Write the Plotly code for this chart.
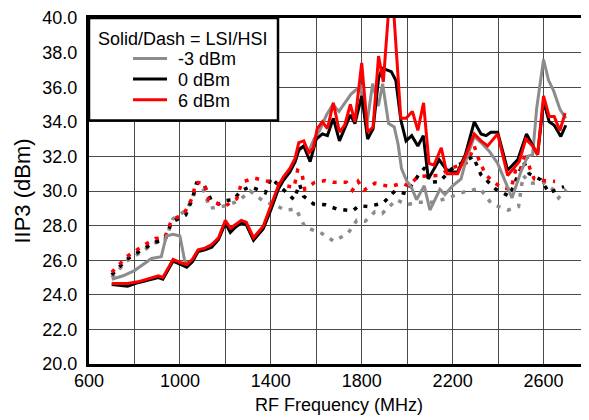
import plotly.graph_objects as go

# IIP3 vs RF frequency, solid = LSI, dotted = HSI
# -3 dBm
freq_m3_lsi = [700, 750, 800, 845, 875, 918, 940, 970, 1000, 1022, 1040, 1055, 1080, 1110, 1140, 1170,
               1200, 1222, 1244, 1270, 1292, 1324, 1366, 1400, 1433, 1455, 1484, 1507, 1523, 1545, 1567,
               1590, 1615, 1645, 1673, 1700, 1725, 1753, 1775, 1795, 1822, 1848, 1873, 1892, 1918, 1943,
               1960, 1975, 1997, 2019, 2041, 2075, 2100, 2122, 2144, 2166, 2200, 2237, 2259, 2295, 2325,
               2361, 2398, 2430, 2461, 2500, 2530, 2552, 2570, 2600, 2622, 2644, 2673, 2698]
iip3_m3_lsi = [24.9, 25.1, 25.4, 25.8, 26.1, 26.2, 27.4, 27.5, 27.4, 25.9, 25.85, 26.0, 26.55, 26.65, 26.8,
               27.25, 28.2, 27.75, 27.95, 28.2, 28.1, 27.2, 27.85, 29.0, 30.2, 30.7, 31.2, 31.7, 32.3, 32.6,
               32.3, 33.0, 33.5, 34.4, 35.0, 34.6, 35.1, 35.6, 35.85, 36.0, 33.8, 36.2, 34.9, 36.2, 33.9,
               33.7, 32.7, 31.3, 30.6, 30.2, 29.5, 30.3, 28.9, 29.5, 30.1, 29.8, 30.3, 30.7, 31.8, 33.15,
               32.8, 32.3, 31.6, 30.6, 29.6, 31.1, 32.0, 32.1, 34.8, 37.6, 36.4, 35.8, 34.7, 34.2]

# 0 dBm
freq_0_lsi = [700, 770, 815, 875, 905, 925, 970, 1005, 1030, 1055, 1080, 1110, 1140, 1170, 1200, 1222,
              1244, 1270, 1292, 1324, 1366, 1400, 1433, 1455, 1484, 1507, 1523, 1545, 1573, 1600, 1627,
              1649, 1675, 1702, 1725, 1750, 1770, 1800, 1826, 1850, 1874, 1890, 1910, 1930, 1950, 1972,
              1995, 2020, 2047, 2071, 2093, 2115, 2141, 2171, 2200, 2222, 2256, 2295, 2325, 2347, 2368,
              2398, 2442, 2486, 2525, 2574, 2600, 2625, 2647, 2676, 2698]
iip3_0_lsi = [24.6, 24.5, 24.7, 24.9, 25.0, 24.9, 25.95, 25.75, 25.6, 25.9, 26.5, 26.6, 26.75, 27.2, 28.15,
              27.6, 27.9, 28.15, 28.05, 27.15, 27.8, 28.9, 30.1, 30.6, 31.1, 31.7, 32.4, 32.6, 31.7, 33.0,
              33.3, 33.2, 34.2, 32.9, 33.6, 34.4, 33.9, 35.5, 33.0, 33.6, 36.5, 37.1, 37.0, 36.9, 36.4,
              34.1, 32.9, 33.2, 32.6, 33.2, 30.7, 31.2, 31.8, 31.25, 31.1, 31.1, 32.1, 34.0, 33.3, 33.2,
              33.4, 33.4, 31.2, 31.8, 33.3, 32.1, 35.2, 34.0, 33.8, 33.15, 33.8]

# 6 dBm
freq_6_lsi = [700, 770, 815, 875, 905, 925, 970, 1005, 1030, 1055, 1080, 1110, 1140, 1170, 1200, 1222,
              1244, 1270, 1292, 1324, 1366, 1400, 1433, 1455, 1484, 1507, 1523, 1545, 1567, 1587, 1604,
              1627, 1649, 1675, 1702, 1725, 1750, 1770, 1800, 1826, 1850, 1874, 1895, 1930, 1972, 1995,
              2023, 2047, 2072, 2096, 2118, 2150, 2175, 2222, 2259, 2295, 2325, 2354, 2398, 2442, 2493,
              2522, 2552, 2574, 2600, 2625, 2647, 2672, 2695]
iip3_6_lsi = [24.65, 24.65, 24.75, 25.0, 25.1, 25.0, 26.05, 25.85, 25.75, 26.05, 26.6, 26.7, 26.9, 27.3,
              28.3, 27.85, 28.05, 28.3, 28.2, 27.3, 27.95, 29.1, 30.3, 30.8, 31.3, 31.9, 32.8, 32.9, 32.2,
              32.5, 33.6, 34.0, 33.6, 35.1, 33.4, 33.8, 35.0, 34.0, 37.4, 33.4, 33.7, 37.8, 36.3, 42.5,
              34.2, 34.2, 34.6, 33.5, 35.1, 31.6, 31.5, 32.5, 31.0, 31.0, 32.1, 33.3, 32.9, 32.6, 33.3,
              30.9, 31.7, 33.0, 32.6, 32.1, 35.5, 34.3, 34.3, 33.5, 34.5]

# HSI
freq_m3_hsi = [700, 766, 833, 892, 933, 970, 1030, 1060, 1104, 1131, 1205, 1260, 1309, 1373, 1418, 1462,
               1511, 1551, 1618, 1677, 1739, 1778, 1815, 1858, 1890, 1953, 1997, 2046, 2115, 2180, 2251,
               2320, 2372, 2444, 2490, 2510, 2540, 2600, 2640, 2666, 2700]
iip3_m3_hsi = [25.0, 25.95, 26.5, 27.0, 27.1, 28.4, 28.9, 29.8, 30.05, 29.0, 29.15, 29.45, 30.0, 29.35,
               29.2, 28.9, 28.95, 27.9, 27.6, 27.1, 27.55, 28.3, 28.25, 28.8, 28.7, 29.5, 29.2, 29.35,
               29.35, 29.6, 29.95, 30.15, 29.25, 28.9, 29.1, 30.9, 30.45, 30.5, 30.1, 29.6, 30.1]

freq_0_hsi = [700, 766, 833, 892, 933, 963, 1025, 1055, 1073, 1105, 1140, 1170, 1200, 1237, 1267, 1309,
              1376, 1401, 1502, 1526, 1544, 1588, 1640, 1692, 1759, 1788, 1828, 1865, 1894, 1946, 1993,
              2049, 2078, 2100, 2144, 2193, 2290, 2324, 2390, 2449, 2512, 2537, 2588, 2625, 2690]
iip3_0_hsi = [25.15, 26.05, 26.6, 27.05, 27.15, 28.2, 28.6, 29.55, 30.45, 30.4, 29.4, 29.25, 29.45, 29.5,
              30.0, 30.25, 29.9, 30.75, 29.5, 30.4, 29.7, 29.25, 29.2, 28.95, 28.85, 29.15, 29.1, 29.2,
              29.3, 30.0, 29.85, 30.9, 31.35, 30.5, 30.55, 31.25, 32.0, 30.95, 30.1, 29.7, 31.7, 31.0,
              30.65, 29.9, 30.25]

freq_6_hsi = [700, 766, 833, 892, 933, 963, 1019, 1052, 1071, 1107, 1126, 1196, 1250, 1272, 1326, 1385,
              1502, 1518, 1536, 1549, 1593, 1640, 1674, 1733, 1759, 1784, 1810, 1858, 1924, 1978, 2004,
              2051, 2137, 2200, 2266, 2295, 2317, 2347, 2412, 2457, 2476, 2493, 2522, 2540, 2559, 2600,
              2651]
iip3_6_hsi = [25.3, 26.2, 26.8, 27.25, 27.3, 28.3, 28.7, 29.55, 30.5, 30.45, 29.5, 29.1, 29.55, 30.5,
              30.75, 30.55, 30.2, 31.2, 31.1, 30.1, 30.5, 30.6, 30.5, 30.5, 30.05, 30.55, 30.05, 30.45,
              30.25, 30.45, 30.3, 30.85, 30.9, 31.35, 31.65, 32.6, 31.75, 30.9, 30.2, 30.1, 31.15, 31.0,
              32.25, 31.3, 30.7, 30.6, 30.55]

x_tick_vals = [600, 800, 1000, 1200, 1400, 1600, 1800, 2000, 2200, 2400, 2600, 2800]
x_tick_text = ['600', '', '1000', '', '1400', '', '1800', '', '2200', '', '2600', '']
legend_labels = ['-3 dBm', '0 dBm', '6 dBm']
colors = ['#8c8c8c', '#000000', '#ff0000']

FONT = 'Liberation Sans, Arial, sans-serif'

fig = go.Figure()

hsi = [(freq_m3_hsi, iip3_m3_hsi), (freq_0_hsi, iip3_0_hsi), (freq_6_hsi, iip3_6_hsi)]
lsi = [(freq_m3_lsi, iip3_m3_lsi), (freq_0_lsi, iip3_0_lsi), (freq_6_lsi, iip3_6_lsi)]

for (f, v), c in zip(hsi, colors):
    fig.add_trace(go.Scatter(x=f, y=v, mode='lines', showlegend=False,
                             line=dict(color=c, width=3.5, dash='4px,7px')))
for (f, v), c in zip(lsi, colors):
    fig.add_trace(go.Scatter(x=f, y=v, mode='lines', showlegend=False,
                             line=dict(color=c, width=3)))

# plot area on the page: x 89..589, y 13..364 (page body adds an 8px offset)
def px(x):
    return (x - 89) / 500

def py(y):
    return (364 - y) / 351

shapes = [dict(type='rect', xref='paper', yref='paper', x0=0, x1=px(278), y0=py(117), y1=1,
               line=dict(color='black', width=2.5), fillcolor='white', layer='above')]
annotations = [dict(text='Solid/Dash = LSI/HSI', xref='paper', yref='paper', x=px(183), y=py(34),
                    xanchor='center', yanchor='middle', showarrow=False,
                    font=dict(size=18, color='black', family=FONT)),
               dict(text='RF Frequency (MHz)', xref='paper', yref='paper', x=0.5, y=py(406),
                    xanchor='center', yanchor='middle', showarrow=False,
                    font=dict(size=18, color='black', family=FONT))]
for i, (lab, c) in enumerate(zip(legend_labels, colors)):
    yy = 54 + i * 21
    shapes.append(dict(type='line', xref='paper', yref='paper', x0=px(133), x1=px(167),
                       y0=py(yy), y1=py(yy), line=dict(color=c, width=3), layer='above'))
    annotations.append(dict(text=lab, xref='paper', yref='paper', x=px(176), y=py(yy + 1),
                            xanchor='left', yanchor='middle', showarrow=False,
                            font=dict(size=18, color='black', family=FONT)))

fig.update_layout(
    width=581, height=412,
    margin=dict(l=81, r=0, t=5, b=56),
    plot_bgcolor='white', paper_bgcolor='white',
    font=dict(family=FONT, size=18, color='black'),
    shapes=shapes, annotations=annotations,
    xaxis=dict(range=[600, 2800], tickmode='array', tickvals=x_tick_vals, ticktext=x_tick_text,
               showgrid=True, gridcolor='#4a4a4a', gridwidth=1.2, zeroline=False,
               showline=True, linecolor='black', linewidth=3, mirror=True, ticks='',
               ticklabelstandoff=-2),
    yaxis=dict(range=[20, 40], dtick=2, tickformat='.1f',
               showgrid=True, gridcolor='#4a4a4a', gridwidth=1.2, zeroline=False,
               showline=True, linecolor='black', linewidth=3, ticks='',
               ticklabelstandoff=5, ticklabeloverflow='allow',
               title=dict(text='IIP3 (dBm)', standoff=6)),
)

fig.write_html("out.html")
